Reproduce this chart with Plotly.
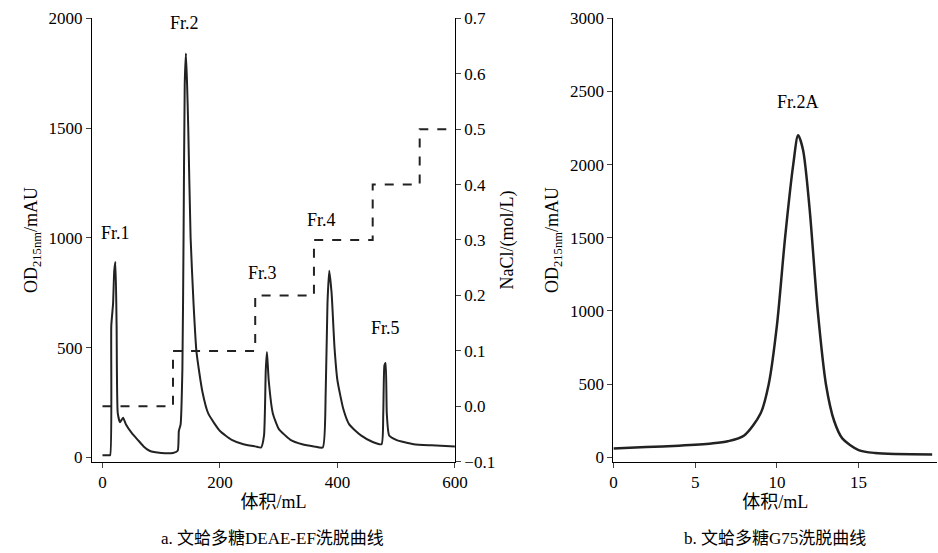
import plotly.graph_objects as go

# Left: DEAE elution
a_x = [0,10,13,15,18,20,22,24,26,30,35,40,50,60,70,80,100,120,128,130,133,136,138,140,142,144,146,150,155,160,170,180,200,220,240,260,270,275,278,280,283,290,300,320,340,360,375,380,383,386,390,395,400,410,420,440,460,475,478,480,482,484,488,500,530,560,600]
a_y = [10,10,10,600,700,850,890,600,200,160,180,150,110,80,50,30,20,20,30,120,150,400,1000,1700,1840,1700,1500,1000,700,480,300,200,120,80,60,50,45,100,400,480,350,200,130,80,60,50,45,300,700,850,750,500,350,220,150,100,70,60,200,420,430,200,100,80,60,55,50]
salt_x = [0,120,120,260,260,360,360,460,460,540,540,600]
salt_y = [0,0,0.1,0.1,0.2,0.2,0.3,0.3,0.4,0.4,0.5,0.5]
# Right: G75
b_x = [0,2,4,6,7,8,9,9.5,10,10.5,11,11.3,11.6,12,12.5,13,13.5,14,15,16,19.5]
b_y = [60,70,80,95,110,150,300,500,900,1500,2000,2200,2100,1700,1000,500,250,130,50,30,20]

peaks_a = [("Fr.1",22,1020),("Fr.2",140,1980),("Fr.3",272,840),("Fr.4",372,1080),("Fr.5",482,590)]

F = "Liberation Serif, Noto Sans CJK SC"
fig = go.Figure()
fig.add_trace(go.Scatter(x=a_x, y=a_y, mode="lines", line=dict(color="#222", width=2, shape="spline", smoothing=0.5), xaxis="x", yaxis="y"))
fig.add_trace(go.Scatter(x=salt_x, y=salt_y, mode="lines", line=dict(color="#222", width=2, dash="dash"), xaxis="x", yaxis="y2"))
fig.add_trace(go.Scatter(x=b_x, y=b_y, mode="lines", line=dict(color="#222", width=2.5, shape="spline", smoothing=0.8), xaxis="x3", yaxis="y3"))

ax = dict(showline=True, linecolor="black", linewidth=1, ticks="outside", ticklen=5, showgrid=False, zeroline=False,
          automargin=False, tickfont=dict(family=F, size=17, color="black"))
yd = [0.165, 0.967]
fig.update_layout(
    width=938, height=553, margin=dict(l=0, r=0, t=0, b=0, autoexpand=False), showlegend=False,
    plot_bgcolor="white", paper_bgcolor="white", font=dict(family=F, color="black"),
    xaxis=dict(ax, domain=[0.098, 0.485], range=[-18, 600], tickvals=[0,200,400,600], anchor="y",
               title=dict(text="体积/mL", font=dict(size=18), standoff=4)),
    yaxis=dict(ax, domain=yd, range=[-20, 2000], tickvals=[0,500,1000,1500,2000], anchor="x",
               title=dict(text="OD<sub>215nm</sub>/mAU", font=dict(size=18), standoff=6)),
    yaxis2=dict(ax, overlaying="y", side="right", range=[-0.1, 0.7], tickvals=[-0.1,0,0.1,0.2,0.3,0.4,0.5,0.6,0.7],
                ticktext=["−0.1","0.0","0.1","0.2","0.3","0.4","0.5","0.6","0.7"], anchor="x",
                title=dict(text="NaCl/(mol/L)", font=dict(size=18), standoff=6)),
    xaxis3=dict(ax, domain=[0.654, 0.999], range=[0, 19.8], tickvals=[0,5,10,15], anchor="y3",
                title=dict(text="体积/mL", font=dict(size=18), standoff=4)),
    yaxis3=dict(ax, domain=yd, range=[-30, 3000], tickvals=[0,500,1000,1500,2000,2500,3000], anchor="x3",
                title=dict(text="OD<sub>215nm</sub>/mAU", font=dict(size=18), standoff=6)),
)
for t, x, y in peaks_a:
    fig.add_annotation(x=x, y=y, xref="x", yref="y", text=t, showarrow=False, font=dict(family=F, size=18))
fig.add_annotation(x=11.3, y=2430, xref="x3", yref="y3", text="Fr.2A", showarrow=False, font=dict(family=F, size=18))
fig.add_annotation(x=0.29, y=0.005, xref="paper", yref="paper", xanchor="center", yanchor="bottom", text="a. 文蛤多糖DEAE-EF洗脱曲线", showarrow=False, font=dict(family=F, size=17))
fig.add_annotation(x=0.826, y=0.005, xref="paper", yref="paper", xanchor="center", yanchor="bottom", text="b. 文蛤多糖G75洗脱曲线", showarrow=False, font=dict(family=F, size=17))
fig.write_html("out.html", config={"displayModeBar": False}, post_script="document.body.style.margin='0';")
